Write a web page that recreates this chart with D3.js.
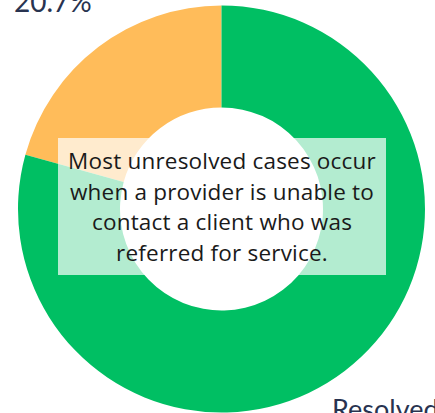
<!DOCTYPE html>
<html>
<head>
<meta charset="utf-8">
<script src="https://cdn.jsdelivr.net/npm/d3@7"></script>
<style>
  html, body { margin: 0; padding: 0; background: #fff; }
  svg { display: block; }
</style>
</head>
<body>
<div id="chart"></div>
<script>
// Data
const categories = ['Unresolved', 'Resolved'];
const shares = [20.7, 79.3];
const sliceColors = ['#FFBC5A', '#00BF63'];
const noteLines = [
  'Most unresolved cases occur',
  'when a provider is unable to',
  'contact a client who was',
  'referred for service.'
];

const width = 435, height = 413;
const cx = 221.5, cy = 209;
const outerR = 203.5, innerR = 101.5;

const svg = d3.select('#chart')
  .append('svg')
  .attr('width', width)
  .attr('height', height);

const g = svg.append('g')
  .attr('transform', `translate(${cx},${cy})`);

// pie goes counter clockwise from the top for the first slice
const pie = d3.pie()
  .sort(null)
  .value(d => d.value)
  .startAngle(0)
  .endAngle(-2 * Math.PI);

const arc = d3.arc()
  .innerRadius(innerR)
  .outerRadius(outerR);

const data = categories.map((c, i) => ({ name: c, value: shares[i] }));
const arcs = pie(data);

g.selectAll('path.slice')
  .data(arcs)
  .join('path')
  .attr('class', 'slice')
  .attr('d', arc)
  .attr('fill', (d, i) => sliceColors[i]);

// Slice labels (partly outside the frame in the original)
svg.append('text')
  .attr('x', 14)
  .attr('y', 12)
  .attr('font-family', 'Lato, sans-serif')
  .attr('font-size', 28)
  .attr('fill', '#283350')
  .text(shares[0].toFixed(1) + '%');

svg.append('text')
  .attr('x', 332)
  .attr('y', 419)
  .attr('font-family', 'Lato, sans-serif')
  .attr('font-size', 27)
  .attr('fill', '#283350')
  .text(categories[1]);

// Note box with translucent white background
const box = { x: 58, y: 138, w: 328, h: 137 };
svg.append('rect')
  .attr('x', box.x)
  .attr('y', box.y)
  .attr('width', box.w)
  .attr('height', box.h)
  .attr('fill', '#fff')
  .attr('fill-opacity', 0.7);

svg.append('text')
  .attr('text-anchor', 'middle')
  .attr('font-family', '"Open Sans", sans-serif')
  .attr('font-size', 22.5)
  .attr('letter-spacing', 0.2)
  .attr('fill', '#1a1a1a')
  .selectAll('tspan')
  .data(noteLines)
  .join('tspan')
  .attr('x', 222)
  .attr('y', (d, i) => 169 + i * 30.7)
  .text(d => d);
</script>
</body>
</html>
